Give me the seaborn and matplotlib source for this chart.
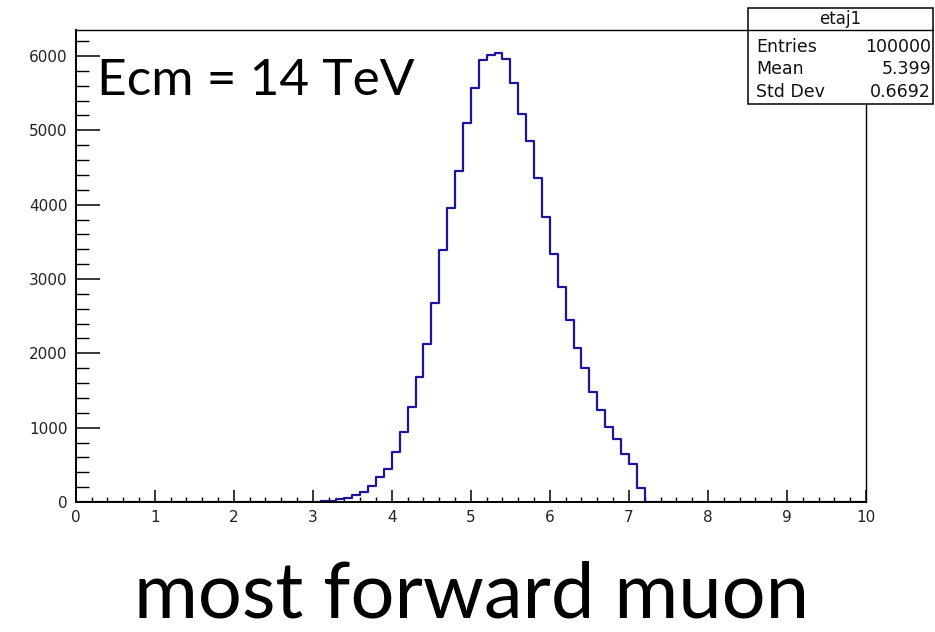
import numpy as np
import pandas as pd
import matplotlib
matplotlib.use("Agg")
import matplotlib.pyplot as plt
import seaborn as sns
from matplotlib.patches import Rectangle
from matplotlib.lines import Line2D
from matplotlib.ticker import MultipleLocator

# ---- data -------------------------------------------------------------
hist_name = "etaj1"
bin_width = 0.1
first_bin_low = 3.1
x_range = (0, 10)
counts = [17, 17, 40, 48, 94, 139, 215, 336, 439, 668, 937,
          1281, 1676, 2124, 2671, 3387, 3956, 4449, 5098,
          5569, 5941, 6017, 6039, 5963, 5641, 5224, 4857, 4359, 3835,
          3342, 2894, 2446, 2074, 1805, 1483, 1237, 1012, 842, 641, 511, 188]
stat_labels = ["Entries", "Mean", "Std Dev"]
stat_values = ["100000", "5.399", "0.6692"]
x_ticks = list(range(0, 11))
y_ticks = [0, 1000, 2000, 3000, 4000, 5000, 6000]
energy_label = "Ecm = 14 TeV"
caption = "most forward muon"

centers = first_bin_low + bin_width * (np.arange(len(counts)) + 0.5)
df = pd.DataFrame({"eta": centers, "n": counts})

# ---- figure -----------------------------------------------------------
W, H = 935, 632
sns.set_theme(style="white")
plt.rcParams["font.family"] = ["DejaVu Sans"]
fig = plt.figure(figsize=(W / 100, H / 100), dpi=100)
fig.patch.set_facecolor("white")

def fx(px):
    return px / W

def fy(py):
    return 1 - py / H

ax_l, ax_r, ax_t, ax_b = 75.7, 866, 30, 502
ax = fig.add_axes([fx(ax_l), fy(ax_b), fx(ax_r - ax_l), (ax_b - ax_t) / H])
ax.set_facecolor("white")

sns.histplot(data=df, x="eta", weights="n", binwidth=bin_width,
             binrange=x_range, element="step", fill=False,
             color="#1c149e", linewidth=1.6, ax=ax)

ax.set_xlim(*x_range)
ax.set_ylim(0, 6350)
ax.set_xlabel("")
ax.set_ylabel("")
ax.set_xticks(x_ticks)
ax.set_yticks(y_ticks)
ax.xaxis.set_minor_locator(MultipleLocator(0.2))
ax.yaxis.set_minor_locator(MultipleLocator(200))
ax.tick_params(axis="x", which="major", direction="in", length=8.6, width=1.1,
               color="black", labelsize=11, pad=6, bottom=True)
ax.tick_params(axis="x", which="minor", direction="in", length=3.6, width=1.0,
               color="black", bottom=True)
ax.tick_params(axis="y", which="major", direction="in", length=17.3, width=1.1,
               color="black", labelsize=11, pad=6, left=True)
ax.tick_params(axis="y", which="minor", direction="in", length=9.4, width=1.0,
               color="black", left=True)
for sp in ax.spines.values():
    sp.set_color("black")
    sp.set_linewidth(1.0)
    sp.set_visible(True)
ax.spines["left"].set_linewidth(1.4)
ax.spines["bottom"].set_linewidth(1.4)
for lab in ax.get_xticklabels() + ax.get_yticklabels():
    lab.set_color("#222222")

# big energy label
fig.text(fx(97), fy(95), energy_label, family=["Lato", "DejaVu Sans"],
         fontsize=37, color="black", ha="left", va="baseline")

# caption
fig.text(fx(472), fy(617), caption, family=["Lato", "DejaVu Sans"],
         fontsize=56, color="black", ha="center", va="baseline")

# stats box
bx0, bx1, by0, by1, bdiv = 748, 933, 8, 104, 30
fig.patches.append(Rectangle((fx(bx0), fy(by1)), fx(bx1 - bx0), (by1 - by0) / H,
                             transform=fig.transFigure, facecolor="white",
                             edgecolor="black", linewidth=1.1, zorder=10))
fig.lines.append(Line2D([fx(bx0), fx(bx1)], [fy(bdiv), fy(bdiv)],
                        transform=fig.transFigure, color="black",
                        linewidth=1.0, zorder=11))
fig.text(fx((bx0 + bx1) / 2), fy(19), hist_name, fontsize=12, ha="center",
         va="center", color="#111111", zorder=12)
rows_y = [47, 69, 92]
for lab, val, yy in zip(stat_labels, stat_values, rows_y):
    fig.text(fx(756), fy(yy), lab, fontsize=12.5, ha="left", va="center",
             color="#111111", zorder=12)
    fig.text(fx(931), fy(yy), val, fontsize=12.5, ha="right", va="center",
             color="#111111", zorder=12)

fig.savefig("out.png", dpi=100, facecolor="white")
